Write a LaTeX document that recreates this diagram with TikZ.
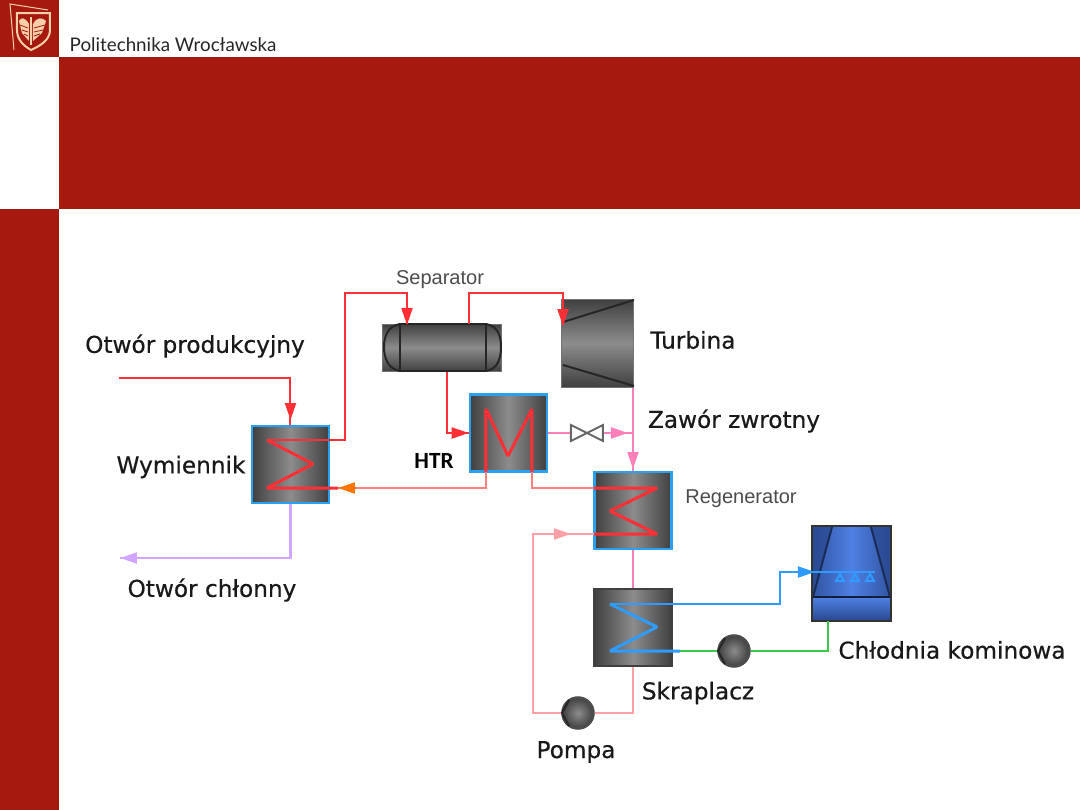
\documentclass[tikz,border=0pt]{standalone}
\usepackage{fontspec}
\setmainfont{Lato}
\newfontfamily\labelfont[FakeBold=0.5]{DejaVu Sans}
\newfontfamily\arialfont{Liberation Sans}
\newfontfamily\htrfont{Carlito}
\usetikzlibrary{arrows.meta}
\definecolor{pwrred}{HTML}{A5190E}
\definecolor{pwrpeach}{HTML}{F6CFA8}
\definecolor{pipered}{HTML}{FF2F35}
\definecolor{pipesalmon}{HTML}{FF8080}
\definecolor{pipepink}{HTML}{FF80B8}
\definecolor{pipelight}{HTML}{FFA0A8}
\definecolor{pipeviolet}{HTML}{D2A6FF}
\definecolor{pipeblue}{HTML}{2F9BFF}
\definecolor{pipegreen}{HTML}{3CC84A}
\definecolor{boxblue}{HTML}{2AA0F0}
\definecolor{towerdark}{HTML}{2A4A92}
\definecolor{towermid}{HTML}{4F80E4}
\tikzset{
	hxbox/.style={draw=boxblue, line width=0.25mm, minimum width=0.77cm, minimum height=0.77cm, inner sep=0pt,
		left color=black!75, right color=black!75, middle color=black!45},
	condbox/.style={hxbox, draw=black!75},
	vesselbox/.style={draw=black!55, line width=0.1mm, inner sep=0pt, top color=black!75, bottom color=black!75, middle color=black!45},
	pumpbox/.style={circle, draw=black!70, line width=0.25mm, minimum size=0.31cm, inner sep=0pt, inner color=black!45, outer color=black!75},
	pipe/.style={line width=0.2mm},
	coil/.style={line width=0.3mm, line join=bevel},
	tip/.style={line width=0.2mm, -{Triangle[length=1.7mm,width=1.1mm]}},
	biglabel/.style={font=\labelfont\fontsize{6.6}{7}\selectfont, text=black!90, inner sep=0pt},
	smalllabel/.style={font=\arialfont\fontsize{5.7}{7}\selectfont, text=black!70, inner sep=0pt}
}
\begin{document}
\begin{tikzpicture}[x=0.1mm, y=-0.1mm]
	\useasboundingbox (0,0) rectangle (1080,810);
	%%%%% SLIDE FRAME %%%%%
	\fill[pwrred] (0,0) rectangle (59,57);
	\fill[pwrred] (59,57) rectangle (1080,209);
	\fill[pwrred] (0,209) rectangle (59,810);
	\draw[pwrpeach, line width=0.1mm] (14,50) -- (10,4) -- (48,10);
	\draw[pwrpeach, line width=0.2mm] (17,13) -- (50,13) -- (50,30) .. controls (50,40) and (40,46) .. (31,50) .. controls (24,46) and (17,40) .. (17,30) -- cycle;
	\fill[pwrpeach] (30,17) -- (30,45) -- (32,45) -- (32,17) -- cycle;
	\fill[pwrpeach] (29,24) .. controls (25,17) and (21,17) .. (19,21) -- (22,33) -- (29,41) -- cycle;
	\fill[pwrpeach] (33,24) .. controls (37,17) and (42,17) .. (46,21) -- (42,33) -- (33,41) -- cycle;
	\draw[pwrred, line width=0.08mm] (28,28) -- (20,25) (28,32) -- (22,30) (28,36) -- (24,34) (34,28) -- (45,25) (34,32) -- (43,30) (34,36) -- (40,34);
	\node[font=\fontsize{5.35}{7}\selectfont, text=black!85, inner sep=0pt, anchor=west] (pwrname) at (69,45) {Politechnika Wrocławska};
	%%%%% EQUIPMENT %%%%%
	\node[hxbox] (wymiennik) at (290.5,464.5) {};
	\node[hxbox] (htr) at (508.5,433) {};
	\node[hxbox] (regen) at (633,510.5) {};
	\node[condbox] (skraplacz) at (633,627.5) {};
	\node[vesselbox, minimum width=1.19cm, minimum height=0.47cm] (separator) at (442.5,347.5) {};
	\node[vesselbox, minimum width=0.72cm, minimum height=0.88cm] (turbina) at (598,343) {};
	\node[pumpbox] (pompa) at (578,713) {};
	\node[pumpbox] (pompab) at (734,651) {};
	\node[inner sep=0pt, minimum width=0.32cm, minimum height=0.16cm] (zawor) at (587,433) {};
	\node[draw=black!80, line width=0.2mm, inner sep=0pt, minimum width=0.79cm, minimum height=0.95cm, left color=towerdark, right color=towerdark, middle color=towerdark!70!towermid] (chlodnia) at (851.5,573.5) {};
	% separator and turbine details
	\draw[black!85, line width=0.2mm] (400,324) -- (486,324) (400,371) -- (486,371) (400,324) -- (400,371) (486,324) -- (486,371);
	\draw[black!85, line width=0.2mm] (400,324) .. controls (388,326) and (384,336) .. (384,347) .. controls (384,358) and (388,369) .. (400,371);
	\draw[black!85, line width=0.2mm] (486,324) .. controls (498,326) and (501,336) .. (501,347) .. controls (501,358) and (498,369) .. (486,371);
	\draw[black!85, line width=0.2mm] (563,322) -- (634,300) (563,365) -- (634,386);
	\draw[black!60, line width=0.2mm] (571,425) -- (603,441) -- (603,425) -- (571,441) -- cycle;
	% cooling tower
	\shade[left color=towerdark!80!towermid, right color=towerdark!80!towermid, middle color=towermid] (832,527) -- (871,527) -- (890,597) -- (813,597) -- cycle;
	\draw[towerdark!60!black, line width=0.2mm] (832,527) -- (813,597) (871,527) -- (890,597);
	\shade[top color=towermid, bottom color=towerdark] (813,597) rectangle (890,620);
	\draw[towerdark!40!black, line width=0.25mm] (813,597) -- (890,597);
	\draw[black!80, line width=0.2mm] (812,526) rectangle (891,621);
	\foreach \nozzle in {840,855,870}
		\draw[pipeblue, line width=0.2mm] (\nozzle,574) -- (\nozzle-4,581) -- (\nozzle+4,581) -- cycle;
	% pump details
	\draw[black!85, line width=0.2mm] (569,700) -- (562,713) -- (569,726) (725,638) -- (718,651) -- (725,664);
	%%%%% PIPES %%%%%
	\coordinate (wellin) at (119,378);
	\coordinate (wellout) at (120,558);
	\draw[pipe, pipered] (wellin) -- (wymiennik.north |- wellin) -- (wymiennik.north);
	\draw[tip, pipered] (wymiennik.north |- 0,403) -- (wymiennik.north |- 0,420);
	\draw[pipe, pipeviolet, line width=0.25mm] (wymiennik.south) -- (wymiennik.south |- wellout) -- (wellout);
	\draw[tip, pipeviolet] (136,558) -- (wellout);
	\coordinate (wymtop) at (267,440);
	\coordinate (wymbot) at (267,488);
	\draw[pipe, pipered] (wymtop) -- (345,440) -- (345,293) -- (407,293) -- (407,324);
	\draw[tip, pipered] (407,309) -- (407,325);
	\draw[coil, pipered] (wymtop) -- (313,464) -- (wymbot) -- (338,488);
	\draw[pipe, pipered] (469,324) -- (469,293) -- (563,293) -- (563,325);
	\draw[tip, pipered] (563,304) -- (563,326);
	\draw[pipe, pipered] (separator.south -| 447,0) -- (447,433) -- (htr.west);
	\draw[tip, pipered] (454,433) -- (htr.west);
	% high temperature coil
	\coordinate (htrleft) at (486,409);
	\coordinate (htrright) at (532,409);
	\draw[coil, pipered] (486,472) -- (htrleft) -- (508,456) -- (htrright) -- (532,472);
	\draw[pipe, pipesalmon, line width=0.25mm] (486,472) -- (486,488) -- (338,488);
	\draw[tip, orange!90!red] (356,488) -- (338,488);
	\draw[pipe, pipesalmon, line width=0.25mm] (532,472) -- (532,488) -- (594,488);
	% pink branch
	\draw[pipe, pipepink, line width=0.25mm] (htr.east) -- (zawor.west) (zawor.east) -- (633,433);
	\draw[tip, pipepink] (612,433) -- (628,433);
	\draw[pipe, pipepink, line width=0.25mm] (turbina.south -| 633,0) -- (regen.north);
	\draw[tip, pipepink] (633,452) -- (633,469);
	\draw[pipe, pipepink, line width=0.25mm] (regen.south) -- (skraplacz.north);
	% regenerator coil
	\draw[coil, pipered] (594,488) -- (657,488) -- (610,511) -- (657,534) -- (594,534);
	\draw[pipe, pipelight, line width=0.25mm] (594,534) -- (533,534) -- (533,713) -- (pompa.west);
	\draw[pipe, pipelight, line width=0.25mm] (pompa.east) -- (skraplacz.south |- pompa.east) -- (skraplacz.south);
	\draw[tip, pipelight] (554,534) -- (571,534);
	% cooling water
	\draw[coil, pipeblue] (610,604) -- (657,627) -- (610,651) -- (680,651);
	\draw[pipe, pipeblue, line width=0.25mm] (610,604) -- (780,604) -- (780,572) -- (875,572);
	\draw[tip, pipeblue] (798,572) -- (815,572);
	\draw[pipe, pipegreen, line width=0.25mm] (680,651) -- (pompab.west);
	\draw[pipe, pipegreen, line width=0.25mm] (pompab.east) -- (828,651) -- (828,621);
	%%%%% LABELS %%%%%
	\node[smalllabel] (lsep) at (440,280) {Separator};
	\node[smalllabel] (lreg) at (741,499) {Regenerator};
	\node[biglabel] (lprod) at (195,346) {Otwór produkcyjny};
	\node[biglabel] (ltur) at (693,340) {Turbina};
	\node[biglabel] (lzaw) at (734,421) {Zawór zwrotny};
	\node[biglabel] (lwym) at (181,467) {Wymiennik};
	\node[font=\htrfont\bfseries\fontsize{6.6}{7}\selectfont, inner sep=0pt] (lhtr) at (434,461) {HTR};
	\node[biglabel] (lchl) at (212,590) {Otwór chłonny};
	\node[biglabel] (lkom) at (952,650) {Chłodnia kominowa};
	\node[biglabel] (lskr) at (698,693) {Skraplacz};
	\node[biglabel] (lpom) at (576,752) {Pompa};
\end{tikzpicture}
\end{document}
